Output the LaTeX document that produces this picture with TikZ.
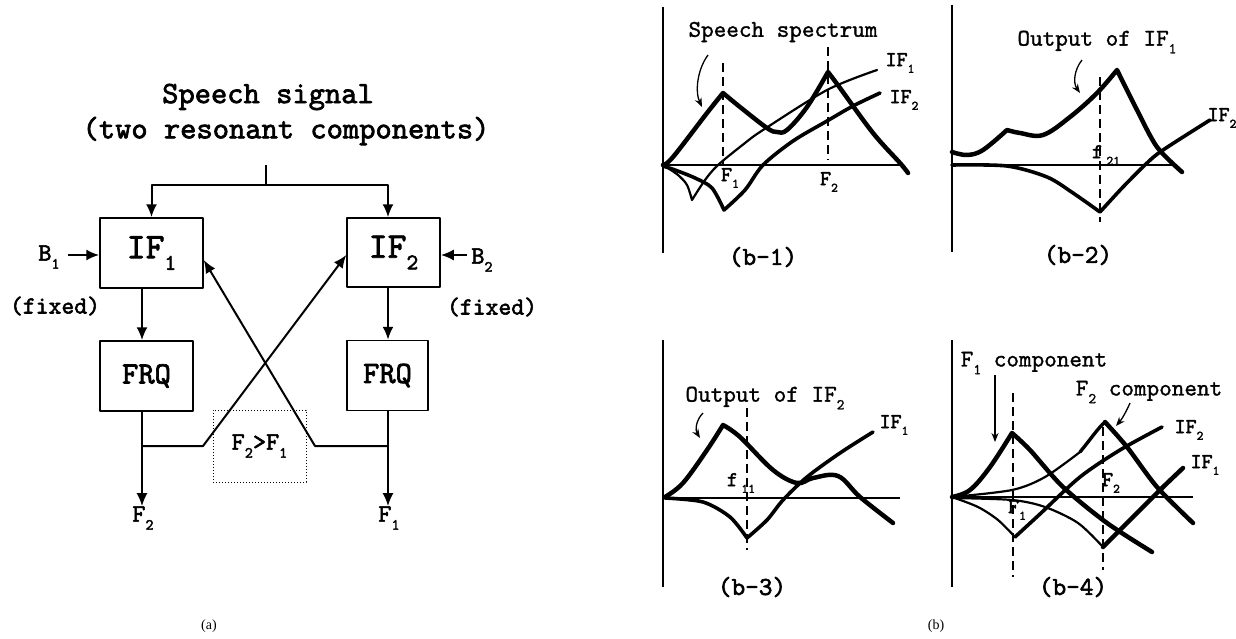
\documentclass[tikz,border=0pt]{standalone}
\usepackage{fontspec}
\setmainfont{Liberation Serif}
% typewriter faces: a heavy one for the block diagram, a medium one for annotations
\newfontfamily\courb{lmmono10-regular.otf}[FakeBold=2.2]
\newfontfamily\courm{lmmono10-regular.otf}[FakeBold=1.2]
\usetikzlibrary{arrows.meta}

% lowered, reduced index for labels such as IF_1
\newcommand\sbs[1]{\raisebox{-0.32em}{\scalebox{0.62}{#1}}}

\begin{document}
\begin{tikzpicture}[x=1pt,y=-1pt,line join=round,
  blk/.style={draw,line width=1.5pt,inner sep=0pt},
  bigtxt/.style={font=\courb\fontsize{36}{38}\selectfont},
  frqtxt/.style={font=\courb\fontsize{31}{33}\selectfont},
  lbl/.style={font=\courb\fontsize{31}{33}\selectfont,inner sep=0pt},
  small/.style={font=\courb\fontsize{25}{27}\selectfont,inner sep=0pt},
  fixtxt/.style={font=\courb\fontsize{24.5}{26}\selectfont,inner sep=0pt},
  wire/.style={line width=2pt},
  arr/.style={wire,-{Latex[length=13pt,width=11pt]}},
  axis/.style={line width=1.6pt},
  spec/.style={line width=4.5pt,line cap=round},
  filt/.style={line width=2.2pt,line cap=round},
  filtb/.style={line width=3.6pt,line cap=round},
  guide/.style={line width=1.2pt,dash pattern=on 9pt off 5pt},
  ptr/.style={line width=1.3pt,-{Stealth[length=9pt,width=7pt]}},
  ann/.style={font=\courm\fontsize{24}{26}\selectfont,inner sep=0pt},
  tag/.style={font=\courb\fontsize{21}{23}\selectfont,inner sep=0pt},
  paneltag/.style={font=\courb\fontsize{26}{28}\selectfont,inner sep=0pt},
  figtag/.style={font=\fontsize{14}{16}\selectfont,inner sep=0pt}]
\useasboundingbox (0,0) rectangle (1236,639);

% ---------------- (a) block diagram ----------------
\node[lbl] (speech1) at (268,97) {Speech signal};
\node[lbl] (speech2) at (286,131) {(two resonant components)};

\node[blk,bigtxt,minimum width=103pt,minimum height=70pt] (if1) at (151.5,253) {IF\sbs{1}};
\node[blk,bigtxt,minimum width=93pt,minimum height=69pt] (if2) at (393.5,252.5) {IF\sbs{2}};
\node[blk,frqtxt,minimum width=93pt,minimum height=70pt] (frq1) at (146.5,376) {FRQ};
\node[blk,frqtxt,minimum width=81pt,minimum height=70pt] (frq2) at (387.5,375.5) {FRQ};
\node[draw,line width=1pt,dotted,small,minimum width=93pt,minimum height=72pt] (cmp) at (259.5,446) {F\sbs{2}>F\sbs{1}};

\node[small] (b1) at (49,257) {B\sbs{1}};
\node[small] (b2) at (482,260) {B\sbs{2}};
\node[fixtxt] (fix1) at (55,306) {(fixed)};
\node[fixtxt] (fix2) at (492,307) {(fixed)};
\node[small] (out2) at (143,518) {F\sbs{2}};
\node[small] (out1) at (389,518) {F\sbs{1}};

\coordinate (top) at (266,165);
\coordinate (tap) at (266,185);
\coordinate (colL) at (142,446);
\coordinate (colR) at (388,446);
\coordinate (kinkL) at (203,446);
\coordinate (kinkR) at (315,446);
\coordinate (in1) at (68,255);
\coordinate (in2) at (467,255);

% input distribution
\draw[wire] (top) -- (tap);
\draw[arr] (tap) -| (if1.north);
\draw[arr] (tap) -| (if2.north -| colR);
% bandwidth inputs
\draw[arr] (in1) -- (in1 -| if1.west);
\draw[arr] (in2) -- (in2 -| if2.east);
% filter to frequency estimator
\draw[arr] (if1.south -| colL) -- (frq1.north -| colL);
\draw[arr] (if2.south -| colR) -- (frq2.north -| colR);
% outputs
\draw[arr] (frq1.south -| colL) -- (out2.north -| colL);
\draw[arr] (frq2.south -| colR) -- (out1.north -| colR);
% cross feedback of the estimated frequencies
\draw[arr] (colL) -- (kinkL) -- (if2.west |- 0,255);
\draw[arr] (colR) -- (kinkR) -- (if1.east |- 0,260);

\node[figtag] (capa) at (209,626) {(a)};

% ---------------- (b-1) ----------------
\draw[axis] (663,7) -- (663,253);
\draw[axis] (663,165) -- (902,165);
\draw[guide] (723,63) -- (723,165);
\draw[guide] (828,47) -- (828,160);
\draw[spec] plot[smooth,tension=0.6] coordinates {(663,165)(673,157)(707,113)(723,93)}
  -- plot[smooth,tension=0.6] coordinates {(723,93)(740,107)(767,128)(777,132)(787,130)(807,107)(828,72)}
  -- plot[smooth,tension=0.6] coordinates {(828,72)(840,88)(873,133)(900,163)(908,173)};
\draw[filt] plot[smooth] coordinates {(663,165)(678,175)(687,185)(692,200)}
  -- plot[smooth] coordinates {(692,200)(705,180)(718,165)(745,143)(763,130)(827,90)(877,70)};
\draw[filtb] plot[smooth] coordinates {(663,166)(675,170)(695,178)(712,188)(724,210)}
  -- plot[smooth] coordinates {(724,210)(745,190)(763,165)(793,141)(827,121)(853,106)(880,93)};
\node[ann] (ss) at (783,32) {Speech spectrum};
\draw[ptr] (708,55) .. controls (697,70) and (695,92) .. (702,107);
\node[tag] (if1a) at (900,63) {IF\sbs{1}};
\node[tag] (if2a) at (904,100) {IF\sbs{2}};
\node[tag] (f1a) at (730,178) {F\sbs{1}};
\node[tag] (f2a) at (829,182) {F\sbs{2}};
\node[paneltag] (b1tag) at (763,257) {(b-1)};

% ---------------- (b-2) ----------------
\draw[axis] (952,5) -- (952,252);
\draw[axis] (952,165) -- (1172,165);
\draw[guide] (1100,77) -- (1100,222);
\draw[spec] plot[smooth,tension=0.6] coordinates {(952,152)(967,155)(983,150)(1007,130)}
  -- plot[smooth,tension=0.6] coordinates {(1007,130)(1020,133)(1043,135)(1070,117)(1097,93)(1117,70)}
  -- plot[smooth,tension=0.5] coordinates {(1117,70)(1137,110)(1157,147)(1182,172)};
\draw[filtb] plot[smooth] coordinates {(952,165)(1007,166)(1047,177)(1073,193)(1100,212)}
  -- plot[smooth] coordinates {(1100,212)(1123,187)(1147,163)(1163,150)(1210,120)};
\node[ann] (o1) at (1097,42) {Output of IF\sbs{1}};
\draw[ptr] (1082,60) .. controls (1074,70) and (1073,83) .. (1080,93);
\node[tag] (if2b) at (1222,118) {IF\sbs{2}};
\node[tag] (f21) at (1106,155) {f\,\sbs{21}};
\node[paneltag] (b2tag) at (1078,255) {(b-2)};

% ---------------- (b-3) ----------------
\draw[axis] (663,340) -- (663,587);
\draw[axis] (663,498) -- (900,498);
\draw[guide] (747,408) -- (747,550);
\draw[spec] plot[smooth,tension=0.6] coordinates {(665,497)(683,483)(707,450)(723,425)}
  -- plot[smooth,tension=0.6] coordinates {(723,425)(740,437)(773,470)(797,483)(813,478)(838,476)(860,497)(893,523)};
\draw[filtb] plot[smooth] coordinates {(665,498)(703,502)(730,517)(747,538)}
  -- plot[smooth] coordinates {(747,538)(767,520)(783,500)(807,477)(840,453)(873,432)};
\node[ann] (o2) at (765,398) {Output of IF\sbs{2}};
\draw[ptr] (703,413) .. controls (696,420) and (695,430) .. (700,438);
\node[tag] (if1c) at (894,425) {IF\sbs{1}};
\node[tag] (f11) at (741,483) {f\,\sbs{11}};
\node[paneltag] (b3tag) at (752,587) {(b-3)};

% ---------------- (b-4) ----------------
\draw[axis] (952,340) -- (952,587);
\draw[axis] (952,497) -- (1193,497);
\draw[guide] (1013,393) -- (1013,577);
\draw[guide] (1103,427) -- (1103,570);
% F1 component
\draw[spec] plot[smooth,tension=0.6] coordinates {(952,497)(970,490)(990,467)(1012,433)}
  -- plot[smooth,tension=0.5] coordinates {(1012,433)(1030,450)(1063,487)(1107,523)(1152,552)};
% F2 component
\draw[filt] plot[smooth] coordinates {(952,497)(1012,490)(1045,477)(1080,452)};
\draw[line width=3.4pt,line cap=round] (1080,452) .. controls (1090,440) and (1098,428) .. (1105,422);
\draw[spec] plot[smooth,tension=0.5] coordinates {(1105,422)(1127,447)(1157,487)(1193,523)};
% IF2 response
\draw[filt] plot[smooth] coordinates {(952,497)(978,507)(998,520)(1015,537)};
\draw[filtb] plot[smooth] coordinates {(1015,537)(1040,514)(1080,477)(1120,450)(1162,427)};
% IF1 response
\draw[filt] plot[smooth] coordinates {(952,498)(1012,500)(1045,507)(1078,523)(1103,547)};
\draw[spec] plot[smooth] coordinates {(1103,547)(1130,520)(1160,490)(1183,468)};
\node[ann] (c1) at (1034,363) {F\sbs{1} component};
\node[ann] (c2) at (1149,392) {F\sbs{2} component};
\draw[ptr] (995,375) -- (995,442);
\draw[ptr] (1130,403) .. controls (1126,412) and (1122,419) .. (1116,426);
\node[tag] (if2d) at (1189,430) {IF\sbs{2}};
\node[tag] (if1d) at (1205,465) {IF\sbs{1}};
\node[tag] (f1d) at (1017,510) {F\sbs{1}};
\node[tag] (f2d) at (1111,483) {F\sbs{2}};
\node[paneltag] (b4tag) at (1073,587) {(b-4)};

\node[figtag] (capb) at (936,626) {(b)};
\end{tikzpicture}
\end{document}
